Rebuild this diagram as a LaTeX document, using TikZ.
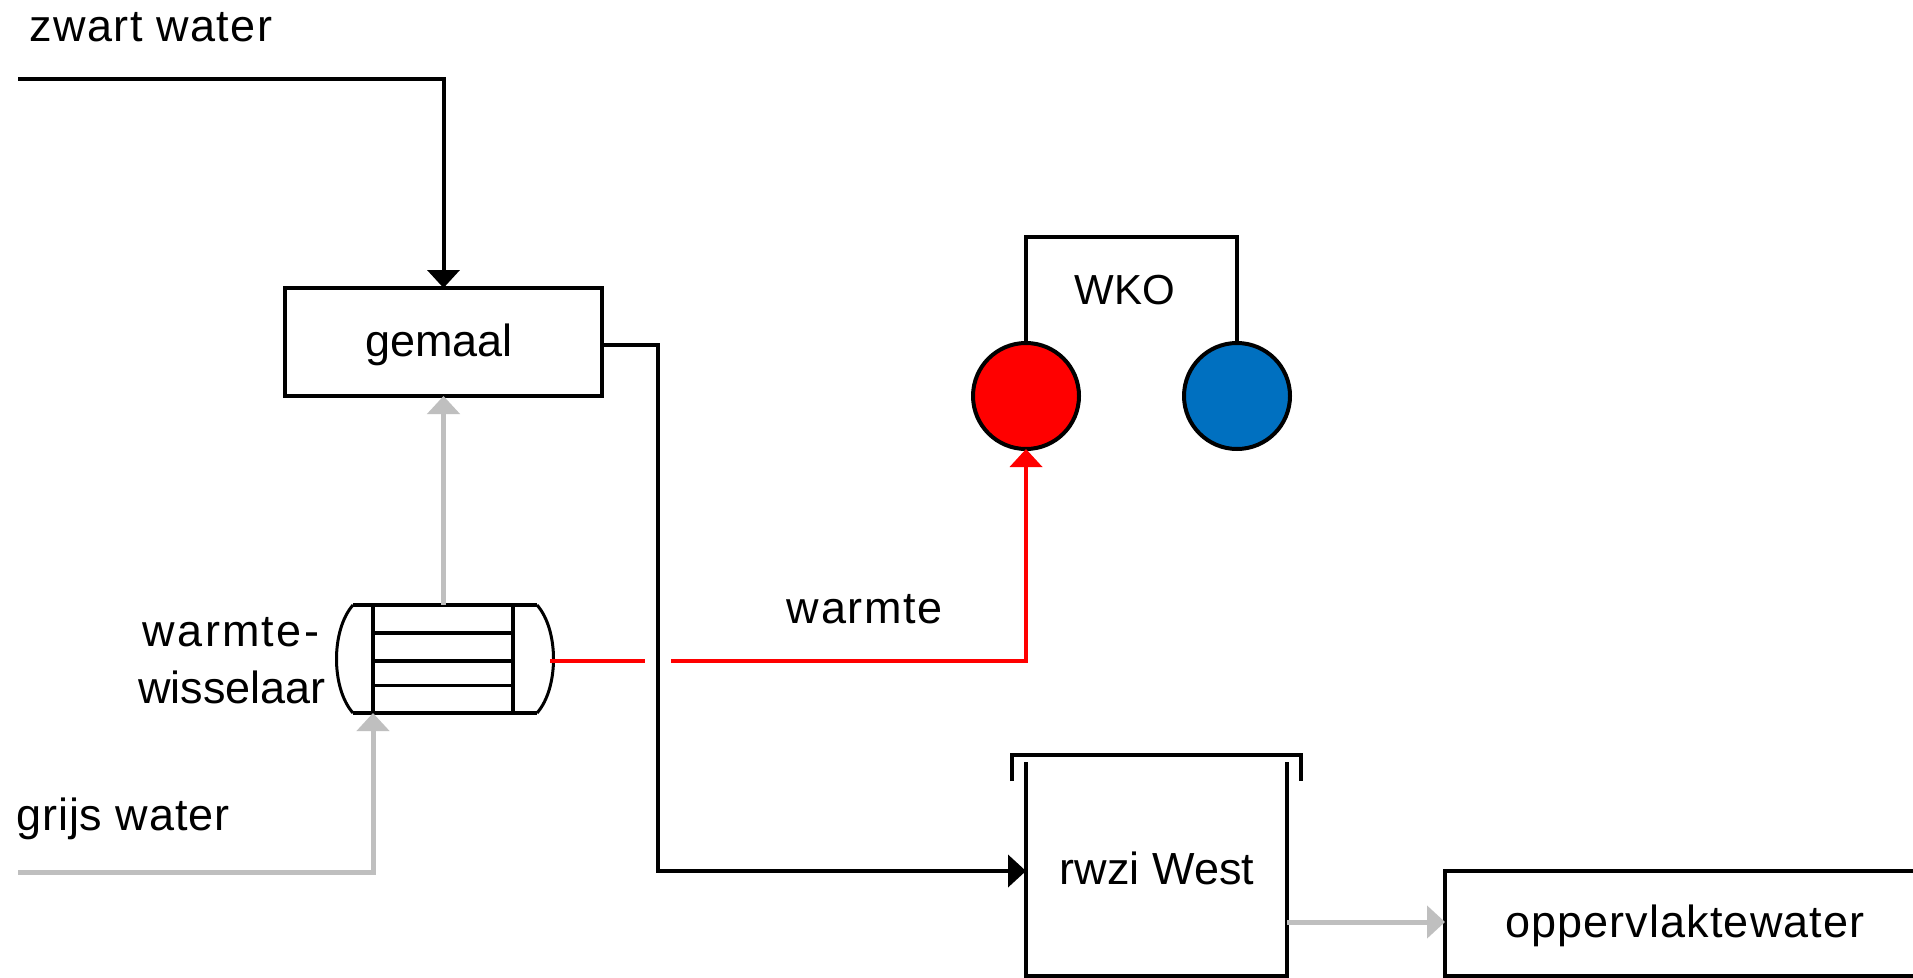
\documentclass[tikz,border=0pt]{standalone}
\usepackage{fontspec}
\setmainfont{Liberation Sans}
\usetikzlibrary{arrows.meta}
\newcommand{\spaced}[2]{{\addfontfeature{LetterSpace=#1}#2}}
\tikzset{
  every node/.style={inner sep=0pt,outer sep=0pt,font=\fontsize{45}{50}\selectfont},
  blk/.style={draw=black,line width=4pt},
  pipe/.style={line width=4pt,line join=miter},
  blackpipe/.style={pipe,draw=black},
  greypipe/.style={pipe,draw=greyc,line width=5pt},
  redpipe/.style={pipe,draw=red},
  tip/.style={-{Triangle[length=18pt,width=32pt]}},
  boxnode/.style={blk,rectangle,fill=white},
  well/.style={circle,blk,minimum size=106pt},
  thinline/.style={draw=black,line width=4pt},
}
\definecolor{greyc}{HTML}{BFBFBF}
\definecolor{bluec}{HTML}{0070C0}
\begin{document}
\begin{tikzpicture}[x=1pt,y=-1pt]
\useasboundingbox (0,0) rectangle (1913,977);
\clip (0,0) rectangle (1913,977);
\fill[white] (0,0) rectangle (1913,977);
% free ends
\coordinate (zwIn) at (18,79);
\coordinate (grIn) at (18,872);
\coordinate (gapL) at (645,661);
\coordinate (gapR) at (671,661);
\coordinate (hxR) at (550,661);
\coordinate (hxIn) at (373,713);
\coordinate (gemOut) at (602,345);
% nodes
\node[boxnode,minimum width=317pt,minimum height=108pt] (gemaal) at (443.5,342) {};
\node (lgemaal) at (439,345) {gemaal};
\node[minimum width=212pt,minimum height=108pt] (hx) at (444,659) {};
\node[minimum width=261pt,minimum height=214pt] (rwzi) at (1156.5,869) {};
\node (rwzilabel) at (1157,868) {rwzi West};
\node[boxnode,minimum width=480pt,minimum height=105pt] (opp) at (1685,923.5) {};
\node (lopp) at (1685,926) {\spaced{2.4}{oppervlaktewater}};
\node[well,fill=red] (hot) at (1026,396) {};
\node[well,fill=bluec] (cold) at (1237,396) {};
\coordinate (wkoL) at (1026,237);
\coordinate (wkoR) at (1237,237);
% heat exchanger
\draw[thinline] (353,605) -- (537,605) (353,713) -- (537,713);
\draw[thinline] (373,605) -- (373,713) (513,605) -- (513,713);
\draw[thinline] (373,633) -- (513,633) (373,661) -- (513,661);
\draw[draw=black,line width=3pt] (373,685) -- (513,685);
\draw[draw=black,line width=3pt] (353,605) .. controls (331,630) and (331,688) .. (353,713);
\draw[draw=black,line width=3pt] (537,605) .. controls (559,630) and (559,688) .. (537,713);
% rwzi outline and cover
\draw[blk] (1026,762) -- (1026,976) -- (1287,976) -- (1287,762);
\draw[draw=black,line width=4pt] (1012,781) -- (1012,755) -- (1301,755) -- (1301,781);
% WKO
\draw[blackpipe] (hot.north) -- (wkoL) -- (wkoR) -- (cold.north);
% connectors
\draw[blackpipe,tip] (zwIn) -| (gemaal.north);
\draw[blackpipe,tip] (gemOut) -| (658,871) -- (rwzi.west |- 0,871);
\draw[greypipe,tip] (gemaal.south |- hx.north) -- (gemaal.south);
\draw[greypipe,tip] (grIn) -| (hxIn);
\draw[redpipe] (hxR) -- (gapL);
\draw[redpipe,tip] (gapR) -| (hot.south);
\draw[greypipe,tip] (1287,922) -- (opp.west |- 0,922);
% labels
\node (lzwart) at (151,27) {\spaced{3}{zwart water}};
\node[font=\fontsize{42}{48}\selectfont] (lwko) at (1125,290) {WKO};
\node (lw1) at (231,632) {\spaced{5}{warmte-}};
\node (lw2) at (232,687) {wisselaar};
\node (lwarm) at (865,609) {\spaced{3.8}{warmte}};
\node (lgrijs) at (123,819) {\spaced{2}{grijs water}};
\end{tikzpicture}
\end{document}
